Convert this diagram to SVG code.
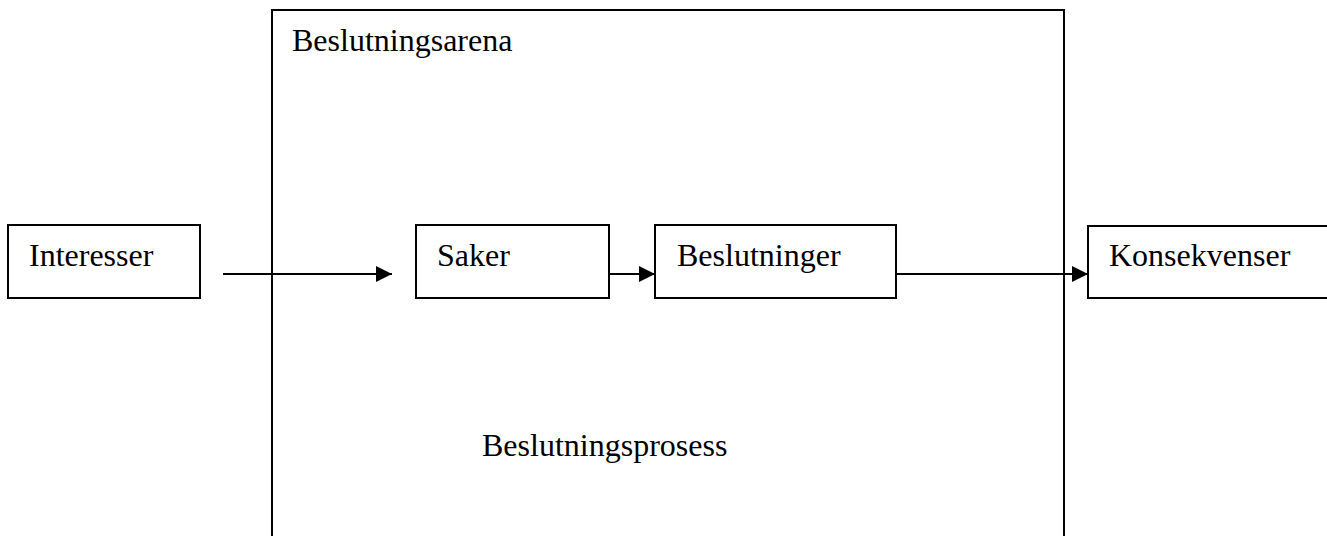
<svg xmlns="http://www.w3.org/2000/svg" width="1327" height="536" viewBox="0 0 1327 536">
<style>
.box{fill:#fff;stroke:#000;stroke-width:2}
.lbl{font-family:"Liberation Serif","Times New Roman",serif;font-size:32px;fill:#000}
.conn{stroke:#000;stroke-width:2;fill:none}
</style>
<defs>
<marker id="ah" markerUnits="userSpaceOnUse" markerWidth="16" markerHeight="16" refX="16" refY="8" orient="auto">
<path d="M0,0 L16,8 L0,16 Z" fill="#000"/>
</marker>
</defs>
<rect width="1327" height="536" fill="#fff"/>
<g id="arena">
<path class="conn" d="M272,540 L272,10 L1064,10 L1064,540"/>
<text class="lbl" x="292" y="51">Beslutningsarena</text>
<text class="lbl" x="482" y="456">Beslutningsprosess</text>
</g>
<g id="connectors">
<line class="conn" x1="223" y1="274" x2="392" y2="274" marker-end="url(#ah)"/>
<line class="conn" x1="609" y1="274" x2="655" y2="274" marker-end="url(#ah)"/>
<line class="conn" x1="896" y1="274" x2="1088" y2="274" marker-end="url(#ah)"/>
</g>
<g id="interesser">
<rect class="box" x="8" y="225" width="192" height="73"/>
<text class="lbl" x="29" y="266">Interesser</text>
</g>
<g id="saker">
<rect class="box" x="416" y="225" width="193" height="73"/>
<text class="lbl" x="437" y="266">Saker</text>
</g>
<g id="beslutninger">
<rect class="box" x="655" y="225" width="241" height="73"/>
<text class="lbl" x="677" y="266">Beslutninger</text>
</g>
<g id="konsekvenser">
<rect class="box" x="1088" y="226" width="250" height="72"/>
<text class="lbl" x="1109" y="266">Konsekvenser</text>
</g>
</svg>
